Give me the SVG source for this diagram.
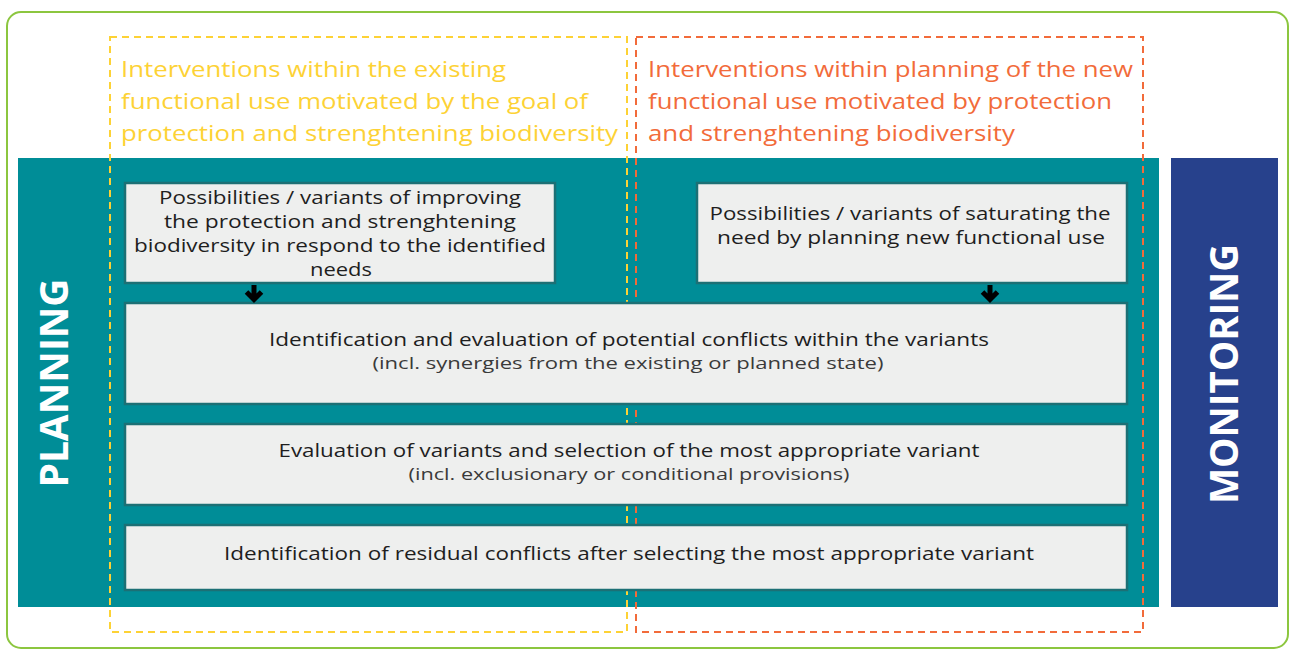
<svg xmlns="http://www.w3.org/2000/svg" width="1291" height="652" viewBox="0 0 1291 652">
<style>
.hdr{font-family:"Open Sans","Liberation Sans",sans-serif;font-size:22px;}
.y{fill:#fdd235;}
.o{fill:#f26b3a;}
.box{fill:#eeefee;stroke:#1c7075;stroke-width:2.5;}
.t{font-family:"Open Sans","Liberation Sans",sans-serif;font-size:18px;fill:#1e1e1e;text-anchor:middle;}
.s{font-family:"Open Sans","Liberation Sans",sans-serif;font-size:17px;fill:#3a3a3a;text-anchor:middle;}
.side{font-family:"Open Sans","Liberation Sans",sans-serif;font-weight:bold;font-size:40px;fill:#ffffff;text-anchor:middle;}
.dash{fill:none;stroke-width:2;stroke-dasharray:7 5;}
.arr{fill:none;stroke:#000;stroke-width:5;}
</style>
<rect x="7" y="12" width="1281" height="636" rx="14" fill="#ffffff" stroke="#8cc63f" stroke-width="2"/>
<g id="planning">
<rect x="18" y="158" width="1141" height="449" fill="#008d97"/>
<text class="side" transform="translate(68,383) rotate(-90)" textLength="209" lengthAdjust="spacingAndGlyphs">PLANNING</text>
</g>
<g id="monitoring">
<rect x="1171" y="158" width="107" height="449" fill="#27418c"/>
<text class="side" transform="translate(1238,374) rotate(-90)" textLength="260" lengthAdjust="spacingAndGlyphs">MONITORING</text>
</g>
<g id="existing-use">
<rect class="dash" x="110" y="37" width="517" height="595" stroke="#fdd235"/>
<text class="hdr y" x="121" y="77" textLength="385" lengthAdjust="spacingAndGlyphs">Interventions within the existing</text>
<text class="hdr y" x="121" y="109" textLength="467" lengthAdjust="spacingAndGlyphs">functional use motivated by the goal of</text>
<text class="hdr y" x="121" y="141" textLength="497" lengthAdjust="spacingAndGlyphs">protection and strenghtening biodiversity</text>
</g>
<g id="new-use">
<rect class="dash" x="636" y="37" width="507" height="595" stroke="#f26b3a"/>
<text class="hdr o" x="648" y="77" textLength="485" lengthAdjust="spacingAndGlyphs">Interventions within planning of the new</text>
<text class="hdr o" x="648" y="109" textLength="464" lengthAdjust="spacingAndGlyphs">functional use motivated by protection</text>
<text class="hdr o" x="648" y="141" textLength="367" lengthAdjust="spacingAndGlyphs">and strenghtening biodiversity</text>
</g>
<g id="variants-existing">
<rect class="box" x="125" y="183" width="430" height="100"/>
<text class="t" x="340" y="204" textLength="362" lengthAdjust="spacingAndGlyphs">Possibilities / variants of improving</text>
<text class="t" x="340" y="228" textLength="352" lengthAdjust="spacingAndGlyphs">the protection and strenghtening</text>
<text class="t" x="340" y="252" textLength="412" lengthAdjust="spacingAndGlyphs">biodiversity in respond to the identified</text>
<text class="t" x="341" y="276" textLength="62" lengthAdjust="spacingAndGlyphs">needs</text>
</g>
<g id="variants-new">
<rect class="box" x="697" y="183" width="430" height="100"/>
<text class="t" x="910" y="220" textLength="401" lengthAdjust="spacingAndGlyphs">Possibilities / variants of saturating the</text>
<text class="t" x="911" y="244" textLength="388" lengthAdjust="spacingAndGlyphs">need by planning new functional use</text>
</g>
<g id="conflicts">
<rect class="box" x="125" y="303" width="1002" height="101"/>
<text class="t" x="629" y="346" textLength="720" lengthAdjust="spacingAndGlyphs">Identification and evaluation of potential conflicts within the variants</text>
<text class="s" x="628" y="369" textLength="511" lengthAdjust="spacingAndGlyphs">(incl. synergies from the existing or planned state)</text>
</g>
<g id="evaluation">
<rect class="box" x="125" y="424" width="1002" height="81"/>
<text class="t" x="629" y="457" textLength="701" lengthAdjust="spacingAndGlyphs">Evaluation of variants and selection of the most appropriate variant</text>
<text class="s" x="629" y="480" textLength="441" lengthAdjust="spacingAndGlyphs">(incl. exclusionary or conditional provisions)</text>
</g>
<g id="residual">
<rect class="box" x="125" y="525" width="1002" height="65"/>
<text class="t" x="629" y="560" textLength="810" lengthAdjust="spacingAndGlyphs">Identification of residual conflicts after selecting the most appropriate variant</text>
</g>
<g id="connectors">
<path class="arr" d="M254 285 V299 M246.5 292 L254 299.5 L261.5 292"/>
<path class="arr" d="M990 285 V299 M982.5 292 L990 299.5 L997.5 292"/>
</g>
</svg>
